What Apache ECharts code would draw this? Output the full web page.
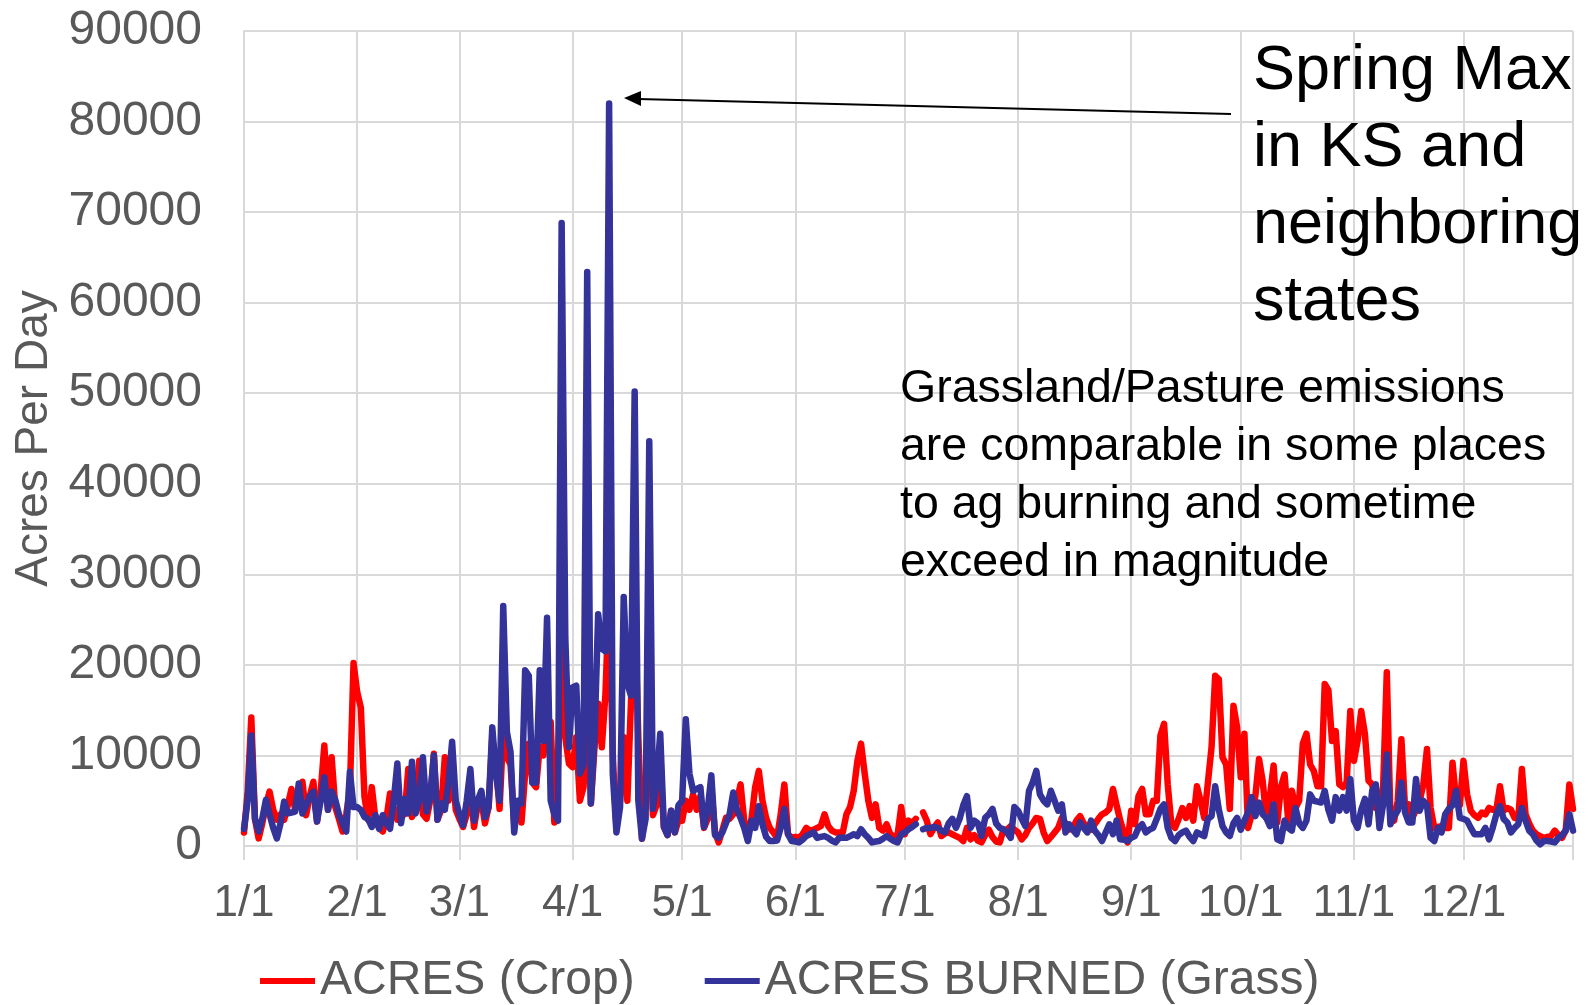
<!DOCTYPE html>
<html>
<head>
<meta charset="utf-8">
<script src="https://cdn.jsdelivr.net/npm/echarts@6/dist/echarts.min.js"></script>
<style>
  html, body { margin: 0; padding: 0; background: #fff; }
  #chart { width: 1593px; height: 1005px; }
</style>
</head>
<body>
<div id="chart"></div>
<script>
// days per month (non-leap year) and the labelled month ticks
const monthDays = [31, 28, 31, 30, 31, 30, 31, 31, 30, 31, 30, 31];
const monthTicks = ['1/1', '2/1', '3/1', '4/1', '5/1', '6/1', '7/1', '8/1', '9/1', '10/1', '11/1', '12/1'];

// ACRES (Crop), one row per month
const cropByMonth = [
  [1500, 6000, 14200, 3000, 840, 2500, 4500, 6000, 4000, 2900, 3500, 2900, 4500, 6300, 4000, 5500, 7100, 3400, 5500, 7100, 2700, 6000, 11100, 4000, 9800, 4300, 3000, 1600, 3500, 6100, 20200],
  [17000, 15300, 5400, 2900, 6500, 3000, 2000, 1600, 3000, 5800, 4000, 2900, 5000, 3500, 8500, 3200, 4500, 9400, 3500, 3000, 5000, 10200, 2900, 4000, 9800, 5000, 9000, 4000],
  [3000, 2100, 3500, 6500, 2100, 4500, 5000, 2500, 4300, 12000, 9000, 4100, 12700, 9800, 9000, 2500, 4500, 2600, 8000, 11300, 7000, 6500, 11000, 10000, 14000, 13700, 2600, 9000, 22000, 12000, 9100],
  [8700, 12000, 5000, 6500, 18000, 4700, 10900, 15700, 10900, 16800, 28000, 10000, 2100, 5000, 12000, 5000, 16000, 27000, 12000, 800, 5000, 15000, 3400, 4500, 9000, 2100, 1200, 3900, 1500, 2800],
  [2800, 5000, 4000, 5700, 4000, 5500, 2000, 3000, 6500, 1500, 400, 1700, 3100, 3000, 3500, 5000, 6800, 2800, 1300, 3000, 6500, 8300, 5000, 3100, 2000, 1500, 900, 3500, 6800, 1300, 900],
  [1000, 900, 1300, 2000, 1700, 1800, 2000, 2200, 3500, 2200, 1700, 1500, 1500, 1500, 3500, 4300, 6100, 9400, 11300, 8000, 5000, 3100, 4600, 2000, 1700, 2400, 1300, 1100, 1200, 4300],
  [1300, 2800, 2500, 3000, null, 3700, 2800, 1300, 2000, 2600, 1100, 1400, 1500, 1300, 1100, 900, 550, 2000, 740, 1200, 600, 400, 1200, 1800, 1000, 500, 400, 1800, 1800, 2200, 1800],
  [1500, 740, 1200, 2000, 2500, 3100, 3000, 1500, 550, 1000, 1500, 2000, 3100, 2500, 1800, 2000, 2800, 3300, 2500, 2000, 1800, 2400, 3000, 3500, 3700, 4100, 6300, 4500, 2800, 1500, 400],
  [3900, 2400, 5500, 6300, 3500, 3500, 5000, 5000, 12200, 13500, 6800, 2400, 2000, 3000, 4200, 3100, 4400, 2800, 6600, 5000, 3100, 7000, 10900, 18800, 18400, 9800, 9000, 4100, 15500, 13100],
  [7600, 12400, 2000, 3500, 5500, 9600, 7200, 3100, 5500, 8900, 2600, 6500, 7900, 2800, 6100, 4200, 5000, 11300, 12400, 9000, 8300, 6600, 6600, 17900, 17200, 11600, 12700, 6800, 6500, 7000, 14900],
  [9400, 11600, 14900, 12400, 7200, 6800, 4200, 5000, 6500, 19200, 3100, 2800, 5000, 11800, 4200, 4600, 3100, 4000, 5000, 6800, 10700, 4200, 2000, 2100, 2200, 2000, 2000, 9200, 5000, 4500],
  [9400, 5700, 3900, 3400, 3100, 3700, 3500, 4200, 4000, 4000, 6600, 3900, 4200, 4000, 3100, 3000, 8500, 3500, 2500, 1700, 1300, 1100, 900, 1000, 1100, 1700, 1200, 900, 1700, 6800, 4100]
];

// ACRES BURNED (Grass), one row per month
const grassByMonth = [
  [1900, 5000, 12200, 3000, 1600, 3000, 5100, 3500, 2000, 840, 2500, 4900, 3600, 3700, 3800, 6900, 3600, 4500, 5500, 6000, 2700, 5000, 7600, 4000, 6000, 5100, 3500, 2500, 1600, 8200, 4300],
  [4300, 4000, 3200, 3000, 2100, 3400, 1900, 3400, 2500, 1900, 5000, 9100, 2500, 5200, 3600, 9300, 3600, 5000, 9800, 3800, 5500, 10000, 2900, 4700, 4000, 7000, 11500, 5000],
  [3500, 2300, 5000, 8500, 2800, 5000, 6100, 3200, 4300, 13100, 8000, 5000, 26500, 12600, 10400, 1500, 5000, 4700, 19400, 18800, 7000, 7000, 19400, 11600, 25200, 5000, 3500, 2800, 68800, 23000, 10900],
  [17500, 17700, 8000, 9000, 63400, 4700, 12000, 25600, 21800, 21500, 82000, 8000, 1500, 4300, 27500, 17900, 16600, 50200, 5000, 800, 3000, 44700, 4100, 7000, 12400, 2100, 1200, 3900, 1500, 4500],
  [5000, 14000, 8000, 6100, 6300, 6500, 2100, 4000, 7800, 1200, 900, 1500, 2500, 3500, 5900, 4000, 3100, 2000, 550, 2800, 2000, 4400, 2400, 1000, 550, 550, 600, 2000, 4100, 1300, 550],
  [500, 400, 700, 1100, 1300, 1500, 900, 1000, 1100, 900, 600, 400, 900, 900, 900, 1100, 1300, 1100, 1850, 1300, 900, 400, 500, 550, 800, 1100, 800, 550, 400, 1300],
  [1500, 1850, 2100, 2400, null, 1850, 2000, 2000, 2100, 2000, 1700, 1500, 2500, 3000, 2000, 3000, 4500, 5500, 2000, 2800, 2500, 1100, 3100, 3500, 4100, 2500, 2000, 1850, 1500, 900, 4300],
  [3900, 3000, 2200, 6100, 7000, 8300, 5700, 5000, 4600, 6100, 5000, 3900, 4600, 1500, 2400, 1800, 1300, 2600, 2000, 1500, 2800, 1700, 1200, 550, 1500, 2400, 1300, 2800, 740, 700, 550],
  [900, 1100, 2000, 2400, 1500, 1800, 2000, 3000, 4100, 4600, 2000, 900, 550, 1200, 1500, 1700, 1000, 550, 1500, 1300, 1100, 3000, 3300, 6600, 4000, 2200, 1500, 1100, 2500, 3100],
  [1800, 2800, 3700, 5400, 3300, 4800, 3500, 3100, 2200, 4600, 740, 550, 2800, 2000, 1700, 4200, 2500, 2000, 2800, 5700, 5000, 4900, 4800, 6100, 4000, 2800, 5400, 3900, 5400, 3900, 7400],
  [2800, 2000, 4000, 5200, 2400, 6100, 6800, 2000, 4600, 10100, 2400, 3300, 3900, 7000, 3700, 2600, 2600, 7400, 3900, 5000, 4500, 900, 550, 2000, 1500, 3500, 4100, 4500, 6100, 3100],
  [3000, 2800, 2000, 1300, 1300, 1300, 2000, 740, 2000, 3500, 4400, 3000, 2600, 1500, 2000, 2400, 4200, 2800, 1700, 1300, 600, 180, 550, 550, 500, 400, 900, 1200, 1700, 3500, 1700]
];

const days = [];
monthDays.forEach((n, m) => {
  for (let d = 1; d <= n; d++) days.push((m + 1) + '/' + d);
});
const crop = cropByMonth.flat();
const grass = grassByMonth.flat();
const lastIdx = days.length - 1;
const isMonth = (i, v) => monthTicks.includes(v);
const isGrid = (i, v) => monthTicks.includes(v) || i === lastIdx;

const FONT = "'Liberation Sans', Arial, sans-serif";
const GRID_COLOR = '#d9d9d9';
const TEXT_COLOR = '#595959';

const chart = echarts.init(document.getElementById('chart'));

chart.setOption({
  animation: false,
  textStyle: { fontFamily: FONT },
  grid: { left: 244, right: 20, top: 31, bottom: 159 },
  legend: {
    left: 255,
    top: 952,
    icon: 'rect',
    itemWidth: 55,
    itemHeight: 6,
    itemGap: 70,
    textStyle: { fontSize: 48, color: TEXT_COLOR, fontFamily: FONT },
    data: ['ACRES (Crop)', 'ACRES BURNED (Grass)']
  },
  xAxis: {
    type: 'category',
    data: days,
    boundaryGap: false,
    axisLine: { lineStyle: { color: GRID_COLOR, width: 2 } },
    axisTick: { show: true, interval: isGrid, length: 14, lineStyle: { color: GRID_COLOR, width: 2 } },
    axisLabel: { interval: isMonth, fontSize: 44, color: TEXT_COLOR, margin: 36, fontFamily: FONT },
    splitLine: { show: true, interval: isGrid, lineStyle: { color: GRID_COLOR, width: 2 } }
  },
  yAxis: {
    type: 'value',
    min: 0,
    max: 90000,
    interval: 10000,
    name: 'Acres Per Day',
    nameLocation: 'middle',
    nameGap: 178,
    nameTextStyle: { fontSize: 46, color: TEXT_COLOR, fontFamily: FONT },
    axisLine: { show: true, lineStyle: { color: GRID_COLOR, width: 2 } },
    axisLabel: { fontSize: 48, color: TEXT_COLOR, margin: 42, fontFamily: FONT, formatter: v => String(v) },
    splitLine: { lineStyle: { color: GRID_COLOR, width: 2 } }
  },
  series: [
    {
      name: 'ACRES (Crop)',
      type: 'line',
      data: crop,
      showSymbol: false,
      connectNulls: false,
      color: '#ff0000',
      lineStyle: { width: 6.5, color: '#ff0000', join: 'round', cap: 'round' }
    },
    {
      name: 'ACRES BURNED (Grass)',
      type: 'line',
      data: grass,
      showSymbol: false,
      connectNulls: false,
      color: '#333399',
      lineStyle: { width: 6.5, color: '#333399', join: 'round', cap: 'round' }
    }
  ],
  graphic: [
    {
      type: 'text',
      z: 100,
      x: 1253,
      y: 33,
      style: {
        text: 'Spring Max\nin KS and\nneighboring\nstates',
        font: '63px ' + FONT,
        lineHeight: 77,
        fill: '#000'
      }
    },
    {
      type: 'text',
      z: 100,
      x: 900,
      y: 360,
      style: {
        text: 'Grassland/Pasture emissions\nare comparable in some places\nto ag burning and sometime\nexceed in magnitude',
        font: '46.5px ' + FONT,
        lineHeight: 58,
        fill: '#000'
      }
    },
    {
      type: 'line',
      z: 100,
      shape: { x1: 1231, y1: 114, x2: 638, y2: 99 },
      style: { stroke: '#000', lineWidth: 2 }
    },
    {
      type: 'polygon',
      z: 100,
      shape: { points: [[624, 98], [641, 91], [641, 106]] },
      style: { fill: '#000' }
    }
  ]
});
</script>
</body>
</html>
